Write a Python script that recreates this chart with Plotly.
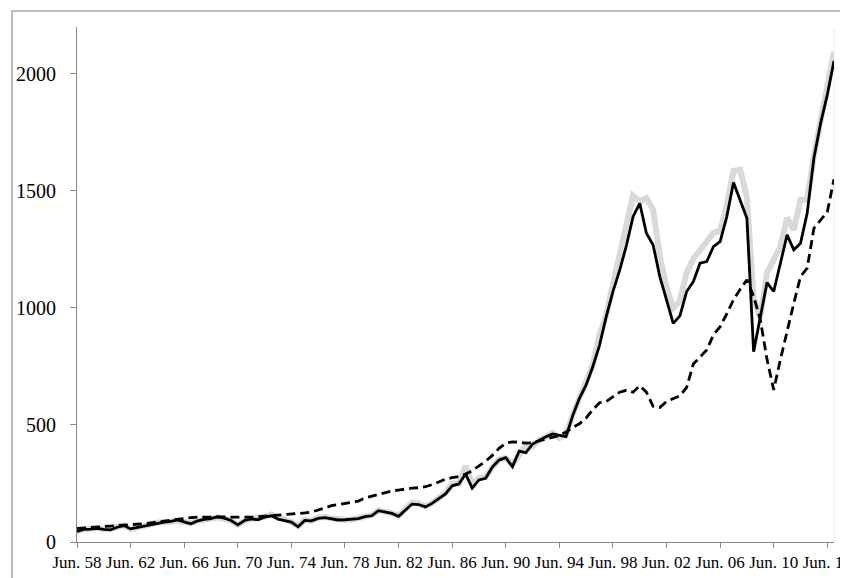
import plotly.graph_objects as go

# Half-yearly periods, Jun. 58 ... Dec. 14
years = list(range(1958, 2015))
periods = []
for yr in years:
    periods.append("Jun. %02d" % (yr % 100))
    periods.append("Dec. %02d" % (yr % 100))

tick_labels = ["Jun. %02d" % (yr % 100) for yr in range(1958, 2015, 4)]

# thick light-grey series
grey_series = [45, 55, 57, 60, 56, 56, 65, 71, 55, 63,
               70, 75, 82, 85, 85, 92, 85, 80, 91, 96,
               100, 104, 98, 92, 73, 92, 99, 102, 107, 118,
               104, 97, 86, 68, 95, 90, 104, 107, 100, 95,
               95, 96, 102, 108, 114, 136, 131, 123, 112, 141,
               168, 165, 153, 167, 191, 210, 250, 250, 325, 247,
               273, 278, 318, 353, 358, 330, 371, 417, 408, 436,
               450, 466, 444, 459, 545, 616, 671, 757, 885, 970,
               1100, 1229, 1340, 1480, 1455, 1470, 1420, 1220, 1090, 1000,
               1030, 1150, 1210, 1250, 1280, 1320, 1330, 1440, 1585, 1590,
               1470, 1040, 960, 1150, 1205, 1262, 1385, 1333, 1462, 1462,
               1650, 1810, 1960, 2095]

# solid black series
solid_series = [45, 54, 55, 58, 54, 52, 63, 70, 56, 62,
                68, 74, 80, 85, 88, 94, 86, 78, 90, 97,
                100, 108, 102, 92, 73, 92, 99, 95, 106, 112,
                98, 92, 85, 65, 92, 90, 101, 104, 98, 94,
                95, 96, 100, 108, 112, 134, 128, 122, 110, 138,
                162, 160, 150, 165, 185, 205, 240, 248, 290, 230,
                265, 272, 320, 350, 360, 322, 388, 382, 418, 435,
                450, 462, 455, 450, 540, 614, 671, 750, 840, 963,
                1070, 1160, 1265, 1390, 1447, 1319, 1269, 1134, 1034, 934,
                966, 1070, 1112, 1191, 1198, 1262, 1283, 1390, 1536, 1462,
                1383, 813, 963, 1108, 1070, 1191, 1312, 1248, 1276, 1405,
                1640, 1789, 1910, 2055]

# dashed black series
dashed_series = [58, 60, 62, 64, 65, 66, 68, 70, 72, 74,
                 78, 82, 86, 90, 94, 98, 102, 104, 106, 107,
                 108, 108, 107, 106, 105, 105, 106, 108, 110, 112,
                 115, 118, 120, 121, 124, 128, 135, 145, 155, 160,
                 165, 168, 175, 188, 196, 205, 212, 218, 222, 227,
                 230, 232, 236, 245, 258, 268, 275, 280, 290, 305,
                 325, 345, 370, 400, 422, 428, 426, 422, 424, 432,
                 440, 447, 455, 470, 490, 505, 530, 565, 595, 600,
                 620, 640, 648, 640, 667, 640, 580, 575, 600, 612,
                 625, 660, 760, 790, 820, 885, 920, 975, 1035, 1080,
                 1120, 1050, 950, 780, 650, 780, 906, 1020, 1134, 1170,
                 1340, 1375, 1410, 1550]

y_ticks = [0, 500, 1000, 1500, 2000]

fig = go.Figure()
fig.add_trace(go.Scatter(x=periods, y=grey_series, mode="lines",
                         line=dict(color="#d9d9d9", width=6), showlegend=False))
fig.add_trace(go.Scatter(x=periods, y=dashed_series, mode="lines",
                         line=dict(color="#000000", width=2.8, dash="9px,5px"),
                         showlegend=False))
fig.add_trace(go.Scatter(x=periods, y=solid_series, mode="lines",
                         line=dict(color="#000000", width=2.8), showlegend=False))

font_family = "Liberation Serif"

# page body has an 8px margin, so the figure is sized/positioned accordingly
fig.update_layout(
    width=840, height=570,
    margin=dict(l=69, r=14, t=19, b=36),
    paper_bgcolor="white", plot_bgcolor="white",
    font=dict(family=font_family, color="#000000"),
    shapes=[
        # outer chart border (bottom is off-screen)
        dict(type="rect", xref="paper", yref="paper",
             x0=-0.0859, x1=1.0159, y0=-0.12, y1=1.0311,
             line=dict(color="#a6a6a6", width=1.5), layer="below"),
        # faint right edge of plot area
        dict(type="line", xref="paper", yref="paper",
             x0=1, x1=1, y0=0, y1=1,
             line=dict(color="#ececec", width=1), layer="below"),
    ],
)

fig.update_xaxes(
    type="category",
    categoryorder="array", categoryarray=periods,
    range=[0, len(periods) - 1],
    tickmode="array", tickvals=tick_labels, ticktext=tick_labels,
    ticks="outside", ticklen=5, tickcolor="#888888", tickwidth=1,
    showline=True, linecolor="#888888", linewidth=1,
    showgrid=False, zeroline=False,
    tickfont=dict(family=font_family, size=17, color="#000000"),
    automargin=False, fixedrange=True,
)
fig.update_yaxes(
    range=[0, 2200],
    tickmode="array", tickvals=y_ticks, ticktext=[str(v) for v in y_ticks],
    ticks="outside", ticklen=6, tickcolor="#888888", tickwidth=1,
    showline=True, linecolor="#888888", linewidth=1,
    showgrid=False, zeroline=False,
    tickfont=dict(family=font_family, size=20, color="#000000"),
    ticklabelstandoff=10,
    automargin=False, fixedrange=True,
)

fig.write_html("out.html")
